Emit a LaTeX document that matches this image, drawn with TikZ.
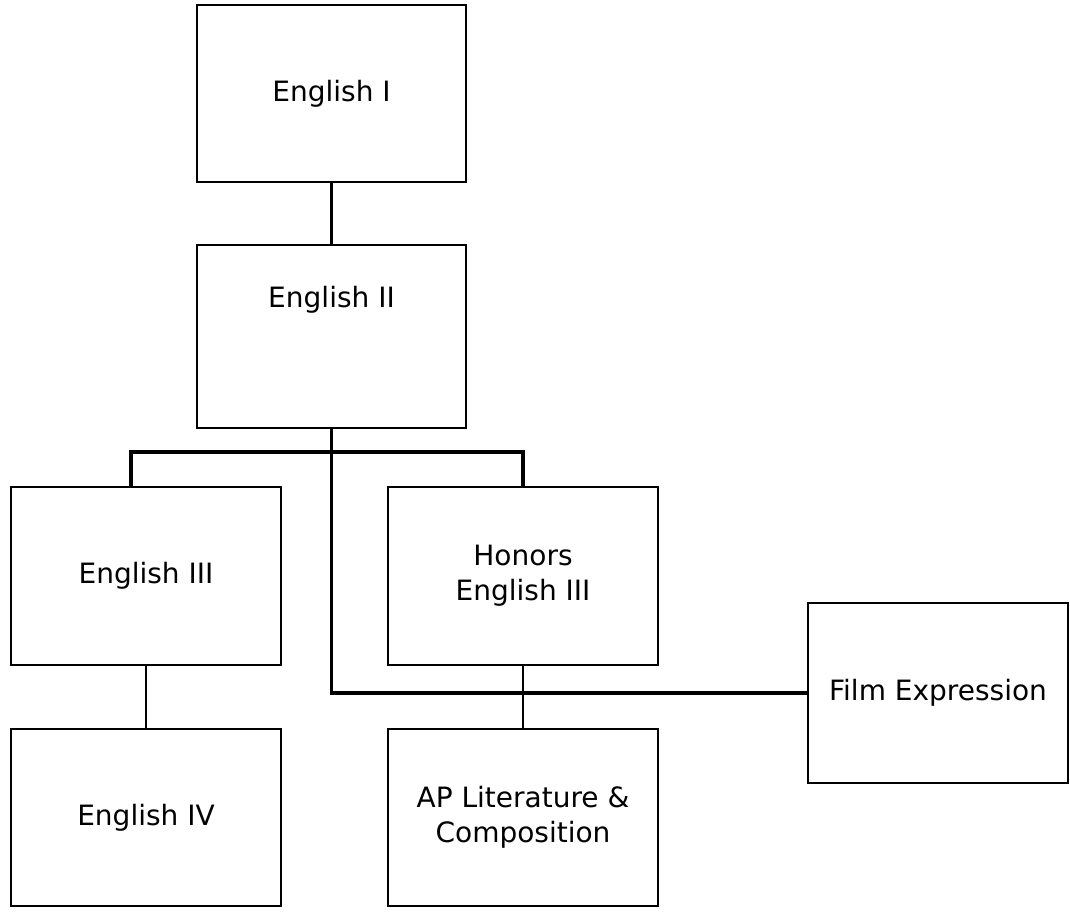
\documentclass[tikz,border=0pt]{standalone}
\usepackage{fontspec}
\setmainfont{DejaVu Sans}
\usepackage{tikz}

\begin{document}
\begin{tikzpicture}[x=0.75pt, y=-0.75pt,
    course/.style={draw, line width=1.7pt, align=center,
      minimum width=202pt, minimum height=133pt,
      font=\fontsize{21}{26}\selectfont},
    link/.style={line width=1.8pt},
    trunk/.style={line width=2.8pt}]
  \useasboundingbox (0,0) rectangle (1070,911);

  {\tikzstyle{every node}=[course]
    \node (e1) at (331.5, 93.5) {English I};
    \node (e2) at (331.5, 336.5) [minimum height=137pt] {};
    \node (e3) at (146, 576) {English III};
    \node (h3) at (523, 576) {Honors\\English III};
    \node (e4) at (146, 817.5) {English IV};
    \node (ap) at (523, 817.5) {AP Literature \&\\Composition};
    \node (film) at (938, 693) [minimum width=195pt, minimum height=135pt] {Film Expression};
  }
  \node (e2txt) at (331.5, 300) [font=\fontsize{21}{26}\selectfont] {English II};

  \coordinate (fork) at (131, 452);

  \draw [link]
    (e1) -- (e2)
    (e3) -- (e4)
    (h3) -- (ap);

  \draw [trunk]
    (e2.south) |- (film.west)
    (e3.north -| fork) -- (fork) -| (h3.north);
\end{tikzpicture}
\end{document}
